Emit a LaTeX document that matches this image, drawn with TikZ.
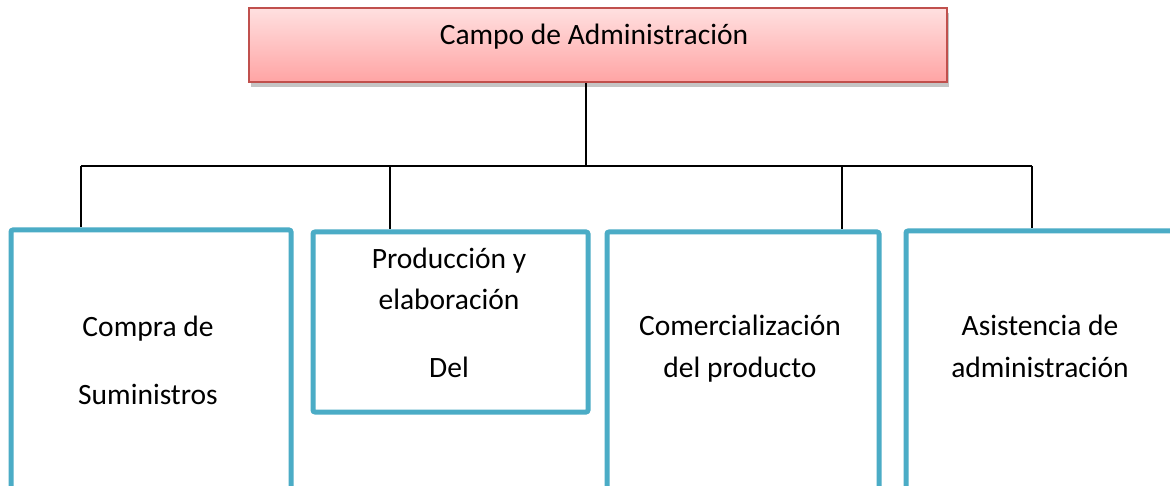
\documentclass[tikz,border=0pt]{standalone}
\usepackage{fontspec}
\setmainfont{Carlito}
\usetikzlibrary{shadows}
\definecolor{unitblue}{HTML}{4BACC6}
\definecolor{headred}{HTML}{C0504D}
\definecolor{headtop}{HTML}{FFE0E0}
\definecolor{headbot}{HTML}{FFA4A4}

\begin{document}
\begin{tikzpicture}[x=1pt, y=-1pt,
    head/.style={draw=headred, line width=2pt, top color=headtop, bottom color=headbot,
      minimum width=698, minimum height=74, inner sep=0pt,
      drop shadow={shadow xshift=2pt, shadow yshift=-5pt, fill=black!45}},
    unit/.style={draw=unitblue, line width=5pt, rounded corners=2pt, anchor=north west, inner sep=0pt},
    label text/.style={font=\fontsize{29.5}{41}\selectfont, align=center, anchor=base, inner sep=0pt},
    wire/.style={draw=black, line width=1.8pt}]
  \useasboundingbox (0,0) rectangle (1170,486);
  \clip (0,0) rectangle (1170,486);
  \fill[white] (0,0) rectangle (1170,486);

  % top of the chart
  \node[head] (campo) at (598,45) {};
  \node[label text] (campoTxt) at (594,45) {Campo de Administración};

  % the four units
  \node[unit, minimum width=280, minimum height=300] (compra) at (8.5,227.5) {};
  \node[unit, minimum width=275, minimum height=180] (produccion) at (310.5,229.5) {};
  \node[unit, minimum width=272, minimum height=300] (comercial) at (604.5,229.5) {};
  \node[unit, minimum width=300, minimum height=300] (asistencia) at (903.5,228.5) {};

  % placed by the baseline of the last line
  \node[label text] (compraTxt) at (148,404) {Compra de\\[27pt]Suministros};
  \node[label text] (produccionTxt) at (449,377) {Producción y\\elaboración\\[26pt]Del};
  \node[label text] (comercialTxt) at (740,377) {Comercialización\\del producto};
  \node[label text] (asistenciaTxt) at (1040,377) {Asistencia de\\administración};

  % connectors
  \coordinate (bus) at (586,166);
  \coordinate (d1) at (81,166);
  \coordinate (d2) at (390,166);
  \coordinate (d3) at (842,166);
  \coordinate (d4) at (1032,166);
  \draw[wire] (campo.south -| bus) -- (bus);
  \draw[wire] (d1) -- (d4);
  \foreach \unit/\drop in {compra/d1, produccion/d2, comercial/d3, asistencia/d4}
    \draw[wire] (\drop) -- (\unit.north -| \drop);
\end{tikzpicture}
\end{document}
